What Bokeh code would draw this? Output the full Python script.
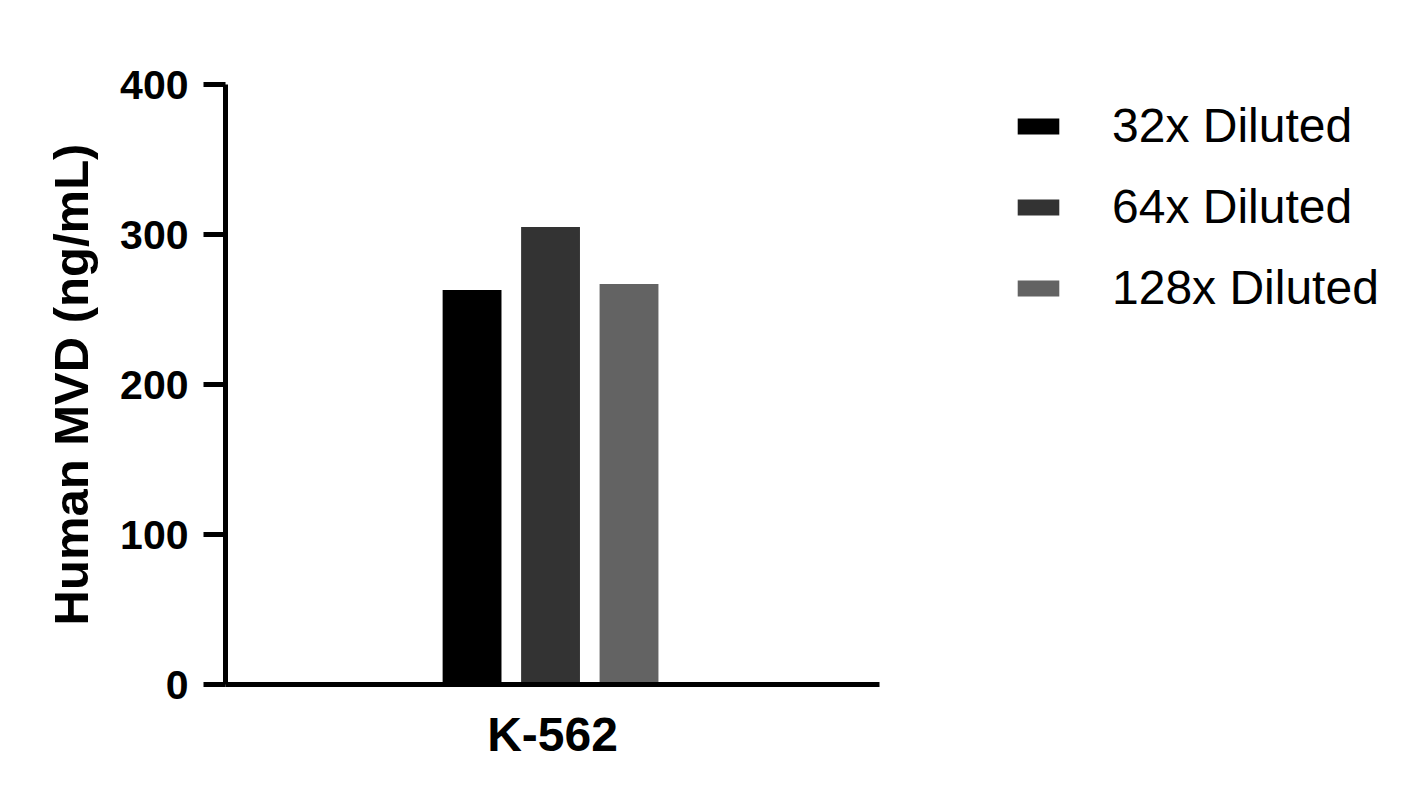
from bokeh.plotting import figure
from bokeh.models import ColumnDataSource, Range1d, FactorRange, Legend, LegendItem
from bokeh.transform import dodge
from bokeh.embed import file_html
from bokeh.resources import INLINE

# Data
categories = ["K-562"]
series = ["32x Diluted", "64x Diluted", "128x Diluted"]
values_32x = [263]
values_64x = [305]
values_128x = [267]
colors = ["#000000", "#333333", "#636363"]
offsets = [-0.123, -0.003, 0.117]
y_ticks = [0, 100, 200, 300, 400]

FONT = "Liberation Sans"

p = figure(
    frame_width=654, frame_height=600,
    x_range=FactorRange(factors=categories, range_padding=0),
    y_range=Range1d(0, 400),
    output_backend="svg", toolbar_location=None,
    min_border_left=225, min_border_right=0,
    min_border_top=84, min_border_bottom=112,
)
p.outline_line_color = None
p.xgrid.visible = False
p.ygrid.visible = False
p.background_fill_color = "white"
p.border_fill_color = "white"

source = ColumnDataSource(dict(cat=categories, v32=values_32x, v64=values_64x, v128=values_128x))
renderers = []
for col, color, off in zip(["v32", "v64", "v128"], colors, offsets):
    r = p.vbar(x=dodge("cat", off, range=p.x_range), top=col, width=0.09,
               source=source, fill_color=color, line_color=None)
    renderers.append(r)

# Y axis
yax = p.yaxis[0]
yax.ticker = y_ticks
yax.axis_line_width = 5
yax.axis_line_color = "black"
yax.major_tick_line_width = 5
yax.major_tick_line_color = "black"
yax.major_tick_out = 22
yax.major_tick_in = 0
yax.minor_tick_line_color = None
yax.major_label_text_font = FONT
yax.major_label_text_font_style = "bold"
yax.major_label_text_font_size = "41px"
yax.major_label_text_color = "black"
yax.major_label_standoff = 15
yax.axis_label = "Human MVD (ng/mL)"
yax.axis_label_text_font = FONT
yax.axis_label_text_font_style = "bold"
yax.axis_label_text_font_size = "49px"
yax.axis_label_text_color = "black"
yax.axis_label_standoff = 19

# X axis
xax = p.xaxis[0]
xax.axis_line_width = 5
xax.axis_line_color = "black"
xax.major_tick_line_color = None
xax.major_tick_out = 0
xax.major_tick_in = 0
xax.minor_tick_line_color = None
xax.major_label_text_font = FONT
xax.major_label_text_font_style = "bold"
xax.major_label_text_font_size = "48px"
xax.major_label_text_color = "black"
xax.major_label_standoff = 23

legend = Legend(
    items=[LegendItem(label=s, renderers=[r]) for s, r in zip(series, renderers)],
    location=(133, 356),
    orientation="vertical",
    glyph_width=52, glyph_height=20,
    label_height=81, label_standoff=48, spacing=0,
    padding=0, margin=0,
    border_line_color=None, background_fill_alpha=0,
    label_text_font=FONT, label_text_font_size="48px", label_text_color="black",
)
p.add_layout(legend, "right")

open("out.html", "w").write(file_html(p, INLINE))
